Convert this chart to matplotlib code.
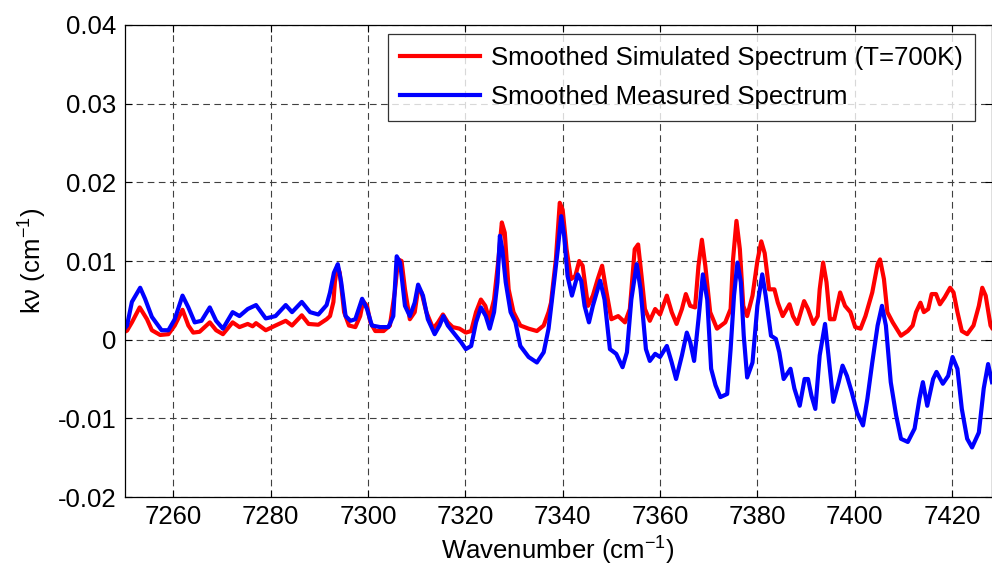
import numpy as np
import matplotlib
matplotlib.use("Agg")
import matplotlib.pyplot as plt

plt.rcParams['font.family'] = ['Liberation Sans', 'DejaVu Sans']
plt.rcParams['mathtext.default'] = 'regular'
plt.rcParams['axes.unicode_minus'] = False

# simulated spectrum (T=700K)
red_wn = [7250.0, 7250.5, 7251.5, 7253.1, 7254.6, 7255.6, 7257.3, 7259.0, 7260.3, 7261.9,
          7263.1, 7264.1, 7265.4, 7267.5, 7268.8, 7270.2, 7272.2, 7273.6, 7275.3, 7276.3,
          7277.0, 7279.0, 7281.0, 7283.1, 7284.4, 7286.4, 7287.8, 7289.8, 7291.5, 7292.2,
          7292.9, 7293.2, 7293.7, 7294.2, 7295.1, 7296.1, 7297.4, 7298.4, 7299.0, 7299.8,
          7300.5, 7301.5, 7303.2, 7304.5, 7305.5, 7306.2, 7306.9, 7307.6, 7308.6, 7309.6,
          7310.3, 7311.0, 7312.0, 7313.4, 7314.4, 7315.4, 7316.4, 7317.4, 7318.8, 7320.1,
          7321.2, 7322.2, 7323.2, 7324.1, 7324.9, 7325.9, 7326.8, 7327.5, 7328.1, 7328.9,
          7329.9, 7331.3, 7333.0, 7334.7, 7336.1, 7337.1, 7337.6, 7338.6, 7339.4, 7340.0,
          7340.8, 7341.7, 7342.6, 7343.4, 7344.1, 7345.2, 7346.2, 7347.2, 7348.1, 7348.9,
          7350.0, 7351.4, 7352.8, 7353.8, 7354.8, 7355.5, 7356.2, 7356.9, 7357.9, 7359.0,
          7360.0, 7361.4, 7362.4, 7363.4, 7364.5, 7365.3, 7366.2, 7367.2, 7367.9, 7368.6,
          7369.3, 7370.3, 7371.7, 7373.4, 7374.5, 7375.0, 7375.7, 7376.4, 7377.1, 7377.9,
          7379.0, 7380.0, 7380.8, 7381.5, 7382.4, 7383.5, 7384.2, 7385.2, 7386.6, 7387.3,
          7388.2, 7389.6, 7390.4, 7391.5, 7392.4, 7392.8, 7393.5, 7394.2, 7394.9, 7395.8,
          7397.0, 7398.0, 7399.1, 7400.1, 7401.2, 7402.2, 7403.6, 7404.7, 7405.2, 7406.0,
          7406.7, 7407.8, 7409.5, 7410.9, 7411.9, 7412.6, 7413.5, 7414.2, 7415.1, 7415.8,
          7416.7, 7417.5, 7418.5, 7419.6, 7420.3, 7421.1, 7422.0, 7423.1, 7424.4, 7425.5,
          7426.2, 7426.9, 7427.9, 7428.2]
red_k = [0.0010, 0.00115, 0.0022, 0.0041, 0.0026, 0.0012, 0.0006, 0.0007, 0.0018, 0.0038,
         0.0018, 0.0009, 0.0010, 0.0022, 0.0012, 0.0007, 0.0022, 0.0016, 0.0020, 0.0017,
         0.0021, 0.0012, 0.0018, 0.0024, 0.0018, 0.0031, 0.0020, 0.0019, 0.0026, 0.0030,
         0.0048, 0.0073, 0.0094, 0.0085, 0.0035, 0.0018, 0.0016, 0.0030, 0.0049, 0.0043,
         0.0022, 0.0011, 0.0011, 0.0018, 0.0060, 0.0102, 0.0100, 0.0064, 0.0026, 0.0035,
         0.0064, 0.0060, 0.0035, 0.0014, 0.0022, 0.0032, 0.0022, 0.0016, 0.0014, 0.0009,
         0.0011, 0.0035, 0.0051, 0.0043, 0.0026, 0.0051, 0.0102, 0.0149, 0.0136, 0.0064,
         0.0035, 0.0018, 0.0014, 0.0011, 0.0018, 0.0035, 0.0047, 0.0102, 0.0174, 0.0165,
         0.0115, 0.0077, 0.0081, 0.0100, 0.0094, 0.0043, 0.0056, 0.0077, 0.0094, 0.0064,
         0.0026, 0.0030, 0.0022, 0.0039, 0.0115, 0.0121, 0.0081, 0.0039, 0.0024, 0.0039,
         0.0032, 0.0056, 0.0035, 0.0020, 0.0039, 0.0058, 0.0043, 0.0041, 0.0094, 0.0127,
         0.0094, 0.0035, 0.0014, 0.0022, 0.0039, 0.0102, 0.0151, 0.0115, 0.0043, 0.0030,
         0.0056, 0.0100, 0.0125, 0.0110, 0.0064, 0.0064, 0.0047, 0.0030, 0.0045, 0.0030,
         0.0020, 0.0049, 0.0039, 0.0020, 0.0030, 0.0064, 0.0098, 0.0073, 0.0026, 0.0026,
         0.0060, 0.0043, 0.0035, 0.0016, 0.0014, 0.0030, 0.0060, 0.0096, 0.0102, 0.0077,
         0.0035, 0.0022, 0.0005, 0.0011, 0.0018, 0.0035, 0.0047, 0.0035, 0.0039, 0.0058,
         0.0058, 0.0045, 0.0054, 0.0066, 0.0060, 0.0035, 0.0011, 0.0007, 0.0018, 0.0043,
         0.0066, 0.0056, 0.0018, 0.0015]

# measured spectrum
blue_wn = [7250.0, 7250.5, 7251.5, 7253.2, 7254.2, 7255.6, 7257.6, 7259.0, 7260.3, 7261.9,
           7263.1, 7264.4, 7265.8, 7267.5, 7268.8, 7270.2, 7272.2, 7273.6, 7275.3, 7277.0,
           7279.0, 7281.0, 7283.1, 7284.4, 7286.4, 7288.1, 7289.8, 7291.5, 7292.2, 7293.0,
           7293.8, 7294.5, 7295.4, 7296.4, 7297.4, 7298.8, 7299.8, 7300.8, 7302.5, 7304.2,
           7305.2, 7305.9, 7306.6, 7307.6, 7308.6, 7309.6, 7310.3, 7311.3, 7312.3, 7313.7,
           7314.7, 7315.5, 7316.4, 7317.8, 7319.1, 7320.1, 7321.2, 7322.2, 7323.2, 7324.2,
           7325.0, 7325.9, 7326.6, 7327.1, 7327.6, 7328.3, 7329.3, 7330.3, 7331.3, 7333.0,
           7334.7, 7336.1, 7337.1, 7338.3, 7339.0, 7339.7, 7340.3, 7341.0, 7341.9, 7343.1,
           7343.8, 7344.5, 7345.4, 7346.2, 7347.7, 7348.6, 7349.7, 7351.0, 7352.3, 7353.2,
           7354.1, 7355.2, 7356.0, 7357.1, 7357.9, 7359.0, 7360.0, 7361.4, 7362.4, 7363.3,
           7364.5, 7365.5, 7366.2, 7367.0, 7367.9, 7368.8, 7369.7, 7370.5, 7371.4, 7372.4,
           7373.8, 7374.5, 7375.2, 7375.9, 7376.6, 7377.2, 7377.9, 7379.0, 7380.0, 7381.0,
           7381.7, 7382.8, 7383.8, 7384.5, 7385.4, 7386.8, 7387.6, 7388.7, 7389.7, 7390.4,
           7391.1, 7391.9, 7392.8, 7393.9, 7394.6, 7395.6, 7396.7, 7397.5, 7398.4, 7399.4,
           7400.5, 7401.7, 7402.6, 7403.6, 7404.7, 7405.6, 7406.4, 7407.4, 7408.5, 7409.5,
           7410.9, 7412.3, 7413.3, 7414.0, 7414.9, 7416.1, 7416.8, 7418.1, 7419.2, 7420.1,
           7421.1, 7422.0, 7423.1, 7424.1, 7425.5, 7426.5, 7427.4, 7428.2]
blue_k = [0.0014, 0.0018, 0.0048, 0.0066, 0.0052, 0.0029, 0.0012, 0.0012, 0.0026, 0.0056,
          0.0041, 0.0022, 0.0024, 0.0041, 0.0024, 0.0014, 0.0035, 0.0030, 0.0039, 0.0044,
          0.0027, 0.0030, 0.0044, 0.0035, 0.0048, 0.0035, 0.0032, 0.0044, 0.0060, 0.0085,
          0.0096, 0.0073, 0.0030, 0.0024, 0.0026, 0.0052, 0.0039, 0.0018, 0.0016, 0.0016,
          0.0030, 0.0106, 0.0098, 0.0043, 0.0030, 0.0047, 0.0070, 0.0056, 0.0026, 0.0007,
          0.0018, 0.0030, 0.0018, 0.0007, -0.0003, -0.0012, -0.0008, 0.0022, 0.0041, 0.0030,
          0.0014, 0.0035, 0.0073, 0.0132, 0.0115, 0.0073, 0.0035, 0.0022, -0.0008, -0.0022,
          -0.0029, -0.0016, 0.0014, 0.0077, 0.0115, 0.0157, 0.0132, 0.0081, 0.0056, 0.0083,
          0.0075, 0.0043, 0.0022, 0.0043, 0.0075, 0.0051, -0.0012, -0.0018, -0.0035, -0.0016,
          0.0051, 0.0096, 0.0064, -0.0012, -0.0027, -0.0018, -0.0022, -0.0008, -0.0029, -0.0050,
          -0.0020, 0.0009, -0.0003, -0.0027, 0.0026, 0.0083, 0.0051, -0.0037, -0.0058, -0.0073,
          -0.0069, -0.0012, 0.0056, 0.0098, 0.0073, 0.0005, -0.0048, -0.0029, 0.0043, 0.0083,
          0.0056, 0.0005, 0.0001, -0.0016, -0.0050, -0.0037, -0.0062, -0.0084, -0.0050, -0.0050,
          -0.0071, -0.0088, -0.0020, 0.0020, -0.0020, -0.0079, -0.0054, -0.0033, -0.0046, -0.0067,
          -0.0093, -0.0109, -0.0075, -0.0029, 0.0018, 0.0043, 0.0018, -0.0054, -0.0096, -0.0126,
          -0.0130, -0.0113, -0.0075, -0.0054, -0.0084, -0.0050, -0.0041, -0.0056, -0.0046, -0.0022,
          -0.0037, -0.0088, -0.0126, -0.0137, -0.0118, -0.0062, -0.0031, -0.0054]

x_ticks = [7260, 7280, 7300, 7320, 7340, 7360, 7380, 7400, 7420]
y_ticks = [-0.02, -0.01, 0, 0.01, 0.02, 0.03, 0.04]
y_labels = ['-0.02', '-0.01', '0', '0.01', '0.02', '0.03', '0.04']

fs = 18.5

fig = plt.figure(figsize=(9.92, 5.77), dpi=100)
ax = fig.add_axes([0.1256, 0.1386, 0.8744, 0.8181])

ax.plot(red_wn, red_k, color='#ff0000', lw=3.0,
        label='Smoothed Simulated Spectrum (T=700K)')
ax.plot(blue_wn, blue_k, color='#0000ff', lw=3.0,
        label='Smoothed Measured Spectrum')

ax.set_xlim(7250, 7428.2)
ax.set_ylim(-0.02, 0.04)
ax.set_xticks(x_ticks)
ax.set_yticks(y_ticks)
ax.set_yticklabels(y_labels)
ax.grid(True, color='#404040', linestyle=(0, (6, 4)), linewidth=0.8)
ax.tick_params(direction='in', top=True, right=True, labelsize=fs, length=5, pad=6)
for s in ax.spines.values():
    s.set_linewidth(0.9)

ax.set_xlabel('Wavenumber (cm$^{-1}$)', fontsize=fs, labelpad=4)
ax.set_ylabel('k\u03bd (cm$^{-1}$)', fontsize=fs, labelpad=6)

leg = ax.legend(loc='upper right', bbox_to_anchor=(0.98, 0.98), fontsize=fs,
                frameon=True, fancybox=False, handlelength=3.1, handletextpad=0.45,
                borderpad=0.45, labelspacing=0.6, borderaxespad=0.0)
leg.get_frame().set_edgecolor('black')
leg.get_frame().set_linewidth(0.9)

fig.savefig('out.png', dpi=100)
